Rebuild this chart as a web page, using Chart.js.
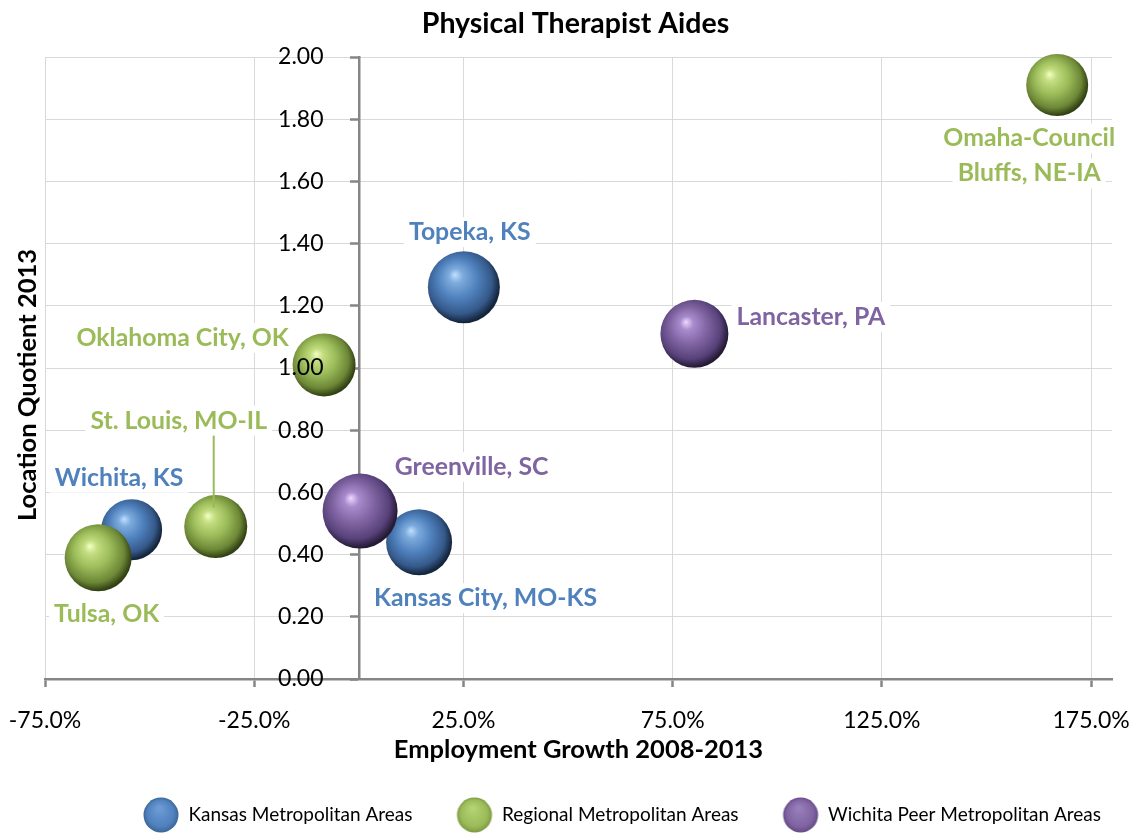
<!DOCTYPE html>
<html><head><meta charset="utf-8">
<script src="https://cdn.jsdelivr.net/npm/chart.js@4.4.0/dist/chart.umd.min.js"></script>
<style>html,body{margin:0;padding:0;background:#fff;overflow:hidden;} canvas{display:block;}</style>
</head><body><canvas id="c" width="1138" height="835" style="width:1138px;height:835px;"></canvas>
<script>
// ---- data ----
const chartTitle = 'Physical Therapist Aides';
const xTitle = 'Employment Growth 2008-2013';
const yTitle = 'Location Quotient 2013';
const groups = ['Kansas Metropolitan Areas', 'Regional Metropolitan Areas', 'Wichita Peer Metropolitan Areas'];
const areaNames = ['Wichita, KS', 'Topeka, KS', 'Kansas City, MO-KS', 'Tulsa, OK', 'St. Louis, MO-IL', 'Oklahoma City, OK', 'Omaha-Council Bluffs, NE-IA', 'Greenville, SC', 'Lancaster, PA'];
const areaGroup = [0, 0, 0, 1, 1, 1, 1, 2, 2];
const employmentGrowth = [-54.3, 25.1, 14.4, -62.3, -34.2, -8.3, 166.9, 0.3, 80.2];
const locationQuotient = [0.48, 1.26, 0.44, 0.39, 0.49, 1.01, 1.91, 0.54, 1.11];
const bubbleSize = [30.5, 36, 33, 33.5, 31.5, 31.5, 31, 37.5, 34];
const xTicks = [-75, -25, 25, 75, 125, 175];
const yTicks = [0, 0.2, 0.4, 0.6, 0.8, 1.0, 1.2, 1.4, 1.6, 1.8, 2.0];

// ---- styling ----
const palettes = [
  {base:'#4f81bd', hi:'#bfe0ff', light:'#7eabdd', dark:'#35598a', darker:'#15253c', text:'#4f81bd', legHi:'#6d9bd6', legDark:'#3b6597'},
  {base:'#9bbb59', hi:'#f4ffc4', light:'#c3dd80', dark:'#6c8736', darker:'#334214', text:'#9bbb59', legHi:'#b4d474', legDark:'#7d9a42'},
  {base:'#8064a2', hi:'#eed8ff', light:'#a98bcd', dark:'#58427a', darker:'#261a36', text:'#8064a2', legHi:'#9a7fbd', legDark:'#654b86'}
];
const labelOffsets = {0:[-12.5,-52], 1:[6,-55], 2:[66.5,56], 3:[8.5,56], 4:[-37,-106], 5:[-141.5,-27], 6:[-28,53.5], 7:[111.5,-44], 8:[116.5,-17]};
const labelLines = {6:['Omaha-Council', 'Bluffs, NE-IA']};
const FONT = 'Lato';
const LEG_PAD = 44, LEG_FS = 19;

// let bubbles sit on the plot edge without reserving extra layout padding
Chart.BubbleController.prototype.getMaxOverflow = function () { return false; };

function sphereFill(ctx) {
  const pal = palettes[ctx.datasetIndex];
  if (ctx.type !== 'data' || !ctx.raw) return pal.base;
  const chart = ctx.chart, xs = chart.scales.x, ys = chart.scales.y;
  if (!chart.chartArea || !xs || !ys) return pal.base;
  const cx = xs.getPixelForValue(ctx.raw.x), cy = ys.getPixelForValue(ctx.raw.y), r = ctx.raw.r;
  const g = chart.ctx.createRadialGradient(cx - 0.25 * r, cy - 0.35 * r, 0, cx - 0.1 * r, cy - 0.12 * r, r * 1.1);
  g.addColorStop(0, pal.hi);
  g.addColorStop(0.18, pal.light);
  g.addColorStop(0.5, pal.base);
  g.addColorStop(0.82, pal.dark);
  g.addColorStop(1, pal.darker);
  return g;
}

function makeIcon(p) {
  const c = document.createElement('canvas');
  c.width = 38; c.height = 38;
  const g = c.getContext('2d');
  const cx = 19, cy = 19, r = 17.5;
  const gr = g.createRadialGradient(cx - 2, cy - 7, 1, cx, cy, r);
  gr.addColorStop(0, p.legHi); gr.addColorStop(0.75, p.base); gr.addColorStop(1, p.legDark);
  g.fillStyle = gr; g.beginPath(); g.arc(cx, cy, r, 0, Math.PI * 2); g.fill();
  return c;
}
const legendIcons = palettes.map(makeIcon);

const datasets = groups.map((name, gi) => {
  const idx = areaGroup.map((g, i) => g === gi ? i : -1).filter(i => i >= 0);
  return {
    label: name,
    areaIdx: idx,
    data: idx.map(i => ({x: employmentGrowth[i], y: locationQuotient[i], r: bubbleSize[i]})),
    backgroundColor: sphereFill,
    hoverBackgroundColor: sphereFill,
    borderWidth: 0,
    hoverBorderWidth: 0,
    hoverRadius: 0,
    order: 3 - gi
  };
});

const labelPlugin = {
  id: 'areaLabels',
  afterDatasetsDraw(chart) {
    const c = chart.ctx;
    c.save();
    c.font = 'bold 24.8px ' + FONT;
    c.textAlign = 'center';
    c.textBaseline = 'middle';
    chart.data.datasets.forEach((ds, di) => {
      const meta = chart.getDatasetMeta(di);
      const pal = palettes[di];
      meta.data.forEach((el, j) => {
        const idx = ds.areaIdx[j];
        const off = labelOffsets[idx];
        const lines = labelLines[idx] || [areaNames[idx]];
        const lx = el.x + off[0], ly = el.y + off[1];
        if (idx === 4) {
          c.strokeStyle = pal.base; c.lineWidth = 2;
          c.beginPath(); c.moveTo(el.x - 2, ly + 10); c.lineTo(el.x - 2, el.y - 19); c.stroke();
        }
        lines.forEach((t, k) => {
          const y = ly + k * 35;
          const w = c.measureText(t).width;
          c.fillStyle = '#fff';
          c.fillRect(lx - w / 2 - 5, y - 15, w + 10, 30);
          c.fillStyle = pal.text;
          c.fillText(t, lx, y);
        });
      });
    });
    c.restore();
  }
};

const textPlugin = {
  id: 'texts',
  afterLayout(chart) {
    const lg = chart.legend;
    if (lg) {
      const dx = 43.5;
      const dy = 815 - (lg.top + LEG_PAD + LEG_FS / 2);
      lg.left += dx; lg.right += dx; lg.top += dy; lg.bottom = chart.height;
    }
  },
  afterDraw(chart) {
    const c = chart.ctx;
    c.save();
    c.fillStyle = '#000';
    c.textAlign = 'center';
    c.textBaseline = 'middle';
    c.font = 'bold 28.5px ' + FONT;
    c.fillText(chartTitle, 575.5, 24);
    c.translate(27.5, 385);
    c.rotate(-Math.PI / 2);
    c.font = 'bold 25.5px ' + FONT;
    c.fillText(yTitle, 0, 0);
    c.restore();
  }
};

function build() {
  new Chart(document.getElementById('c'), {
    type: 'bubble',
    data: {datasets},
    plugins: [labelPlugin, textPlugin],
    options: {
      responsive: false,
      maintainAspectRatio: false,
      animation: false,
      events: [],
      layout: {padding: {left: 45, right: 26, top: 57, bottom: 9.7}},
      scales: {
        x: {
          type: 'linear', position: 'bottom', min: -75, max: 180,
          afterBuildTicks: s => { s.ticks = xTicks.map(v => ({value: v})); },
          afterFit: s => { s.paddingLeft = 0; s.paddingRight = 0; s.height = 86.3; },
          grid: {color: '#d9d9d9', lineWidth: 1, tickColor: '#868686', tickLength: 8, tickWidth: 2.5},
          border: {color: '#868686', width: 2.5},
          ticks: {color: '#000', font: {family: FONT, size: 23, lineHeight: 1.2}, padding: 20, maxRotation: 0, autoSkip: false,
                  callback: v => v.toFixed(1) + '%'},
          title: {display: true, text: xTitle, color: '#000', font: {family: FONT, size: 25.5, weight: 'bold', lineHeight: 1.2}, padding: {top: 0, bottom: 0}}
        },
        y: {
          type: 'linear', position: {x: 0}, min: 0, max: 2,
          afterBuildTicks: s => { s.ticks = yTicks.map(v => ({value: v})); },
          grid: {color: '#d9d9d9', lineWidth: 1, tickColor: '#868686', tickLength: 8, tickWidth: 2.5},
          border: {color: '#868686', width: 2.5},
          // axis sits inside the plot at x = 0, so the label gap is kept with trailing spaces
          ticks: {z: 1, color: '#000', font: {family: FONT, size: 23}, callback: v => v.toFixed(2) + '      '}
        }
      },
      plugins: {
        title: {display: false},
        tooltip: {enabled: false},
        legend: {
          position: 'bottom', align: 'center', maxHeight: 60,
          labels: {
            usePointStyle: true, pointStyleWidth: 36, padding: LEG_PAD, color: '#000',
            font: {family: FONT, size: LEG_FS},
            sort: (a, b) => a.datasetIndex - b.datasetIndex,
            generateLabels: chart => {
              const items = Chart.defaults.plugins.legend.labels.generateLabels(chart);
              items.forEach(it => { it.pointStyle = legendIcons[it.datasetIndex]; it.lineWidth = 0; it.strokeStyle = 'rgba(0,0,0,0)'; });
              return items;
            }
          }
        }
      }
    }
  });
}
Promise.all([document.fonts.load('21px Lato'), document.fonts.load('bold 24px Lato')]).catch(() => {}).then(build);
</script>
</body></html>
